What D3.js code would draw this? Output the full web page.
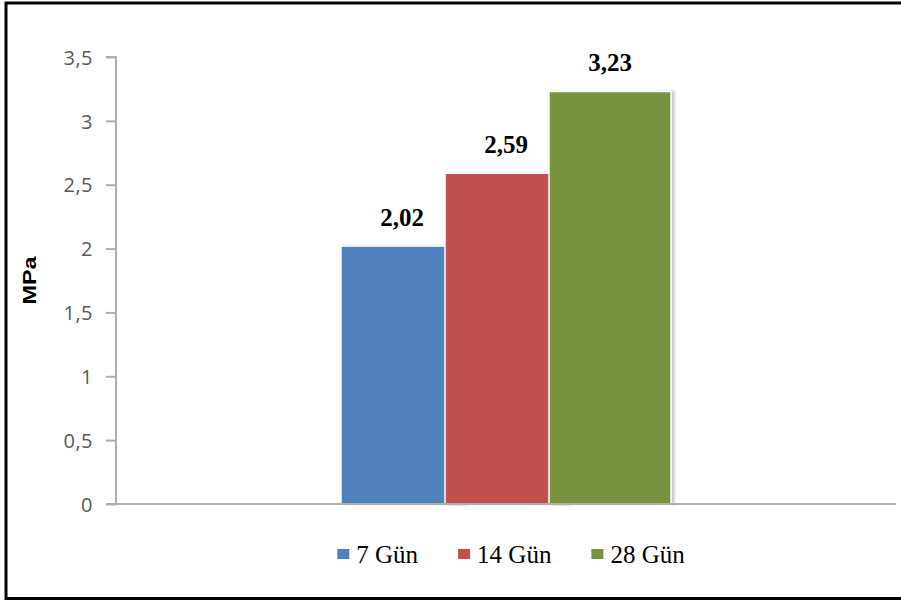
<!DOCTYPE html>
<html>
<head>
<meta charset="utf-8">
<script src="https://cdn.jsdelivr.net/npm/d3@7"></script>
<style>
  html, body { margin: 0; padding: 0; background: #fff; }
  svg { display: block; }
</style>
</head>
<body>
<svg id="chart" width="901" height="601"></svg>
<script>
// Compressive strength by curing age
const categories = ["Numune"];
const seriesNames = ["7 Gün", "14 Gün", "28 Gün"];
const seriesValues = [2.02, 2.59, 3.23];
const seriesColors = ["#4f81bd", "#c0504d", "#77933c"];
const yTicks = [0, 0.5, 1, 1.5, 2, 2.5, 3, 3.5];
const yLabel = "MPa";

const svg = d3.select("#chart");
const plot = { left: 116, right: 896, top: 57, bottom: 504 };
const barWidth = 122;
const barStep = 104;
const axisColor = "#aeaeae";

const fmt = d => String(d).replace(".", ",");

// frame around the figure
svg.append("rect")
  .attr("x", 6).attr("y", 3)
  .attr("width", 910).attr("height", 595.5)
  .attr("fill", "#fff")
  .attr("stroke", "#000")
  .attr("stroke-width", 3);

const defs = svg.append("defs");
const shadow = defs.append("filter").attr("id", "barShadow")
  .attr("x", "-20%").attr("y", "-10%").attr("width", "140%").attr("height", "120%");
shadow.append("feDropShadow")
  .attr("dx", 3).attr("dy", 0)
  .attr("stdDeviation", 1.3)
  .attr("flood-color", "#000")
  .attr("flood-opacity", 0.2);

const y = d3.scaleLinear().domain([0, 3.5]).range([plot.bottom, plot.top]);
const x0 = d3.scaleBand().domain(categories).range([plot.left, plot.right]);
const groupCenter = x0(categories[0]) + x0.bandwidth() / 2;
const x1 = d3.scalePoint().domain(seriesNames)
  .range([groupCenter - barStep, groupCenter + barStep]);

// y axis
const yAxis = svg.append("g")
  .attr("transform", `translate(${plot.left},0)`)
  .call(d3.axisLeft(y).tickValues(yTicks).tickFormat(fmt).tickSize(10).tickPadding(13));
yAxis.select(".domain").attr("stroke", axisColor).attr("stroke-width", 2)
  .attr("d", `M-10,${plot.top}H0V${plot.bottom}`);
yAxis.selectAll(".tick line").attr("stroke", axisColor).attr("stroke-width", 2);
yAxis.selectAll(".tick text")
  .attr("fill", "#595959")
  .attr("dy", "0.36em")
  .style("font-family", "'Open Sans', 'Liberation Sans', sans-serif")
  .style("font-size", "20px")
  .style("letter-spacing", "0.5px");

// bars, drawn in order so later series sit on top
const bars = svg.append("g");
seriesNames.forEach((name, i) => {
  const cx = x1(name);
  bars.append("rect")
    .attr("x", cx - barWidth / 2)
    .attr("y", y(seriesValues[i]))
    .attr("width", barWidth)
    .attr("height", y(0) - y(seriesValues[i]))
    .attr("fill", seriesColors[i])
    .attr("stroke", "#fff")
    .attr("stroke-width", 1.5)
    .attr("filter", "url(#barShadow)");
});

// x axis baseline
svg.append("line")
  .attr("x1", plot.left - 10).attr("x2", plot.right)
  .attr("y1", y(0)).attr("y2", y(0))
  .attr("stroke", axisColor).attr("stroke-width", 2);

// value labels
seriesNames.forEach((name, i) => {
  svg.append("text")
    .attr("x", x1(name))
    .attr("y", y(seriesValues[i]) - 20)
    .attr("text-anchor", "middle")
    .style("font-family", "'Liberation Serif', 'Times New Roman', serif")
    .style("font-weight", "bold")
    .style("font-size", "25px")
    .attr("fill", "#000")
    .text(fmt(seriesValues[i]));
});

// axis title
svg.append("text")
  .attr("transform", `translate(36,${(plot.top + plot.bottom) / 2}) rotate(-90)`)
  .attr("text-anchor", "middle")
  .style("font-family", "'Liberation Sans', Arial, sans-serif")
  .style("font-weight", "bold")
  .style("font-size", "19px")
  .attr("textLength", 48)
  .attr("lengthAdjust", "spacingAndGlyphs")
  .attr("fill", "#000")
  .text(yLabel);

// legend
const legend = svg.append("g");
let lx = 0;
seriesNames.forEach((name, i) => {
  const item = legend.append("g").attr("transform", `translate(${lx},0)`);
  item.append("rect")
    .attr("x", 0).attr("y", -14)
    .attr("width", 12).attr("height", 10)
    .attr("fill", seriesColors[i]);
  const t = item.append("text")
    .attr("x", 19).attr("y", 0)
    .style("font-family", "'Liberation Serif', 'Times New Roman', serif")
    .style("font-size", "25px")
    .attr("fill", "#000")
    .text(name);
  lx += 19 + t.node().getComputedTextLength() + 40;
});
const legendWidth = lx - 40;
legend.attr("transform", `translate(${511 - legendWidth / 2},563)`);
</script>
</body>
</html>
